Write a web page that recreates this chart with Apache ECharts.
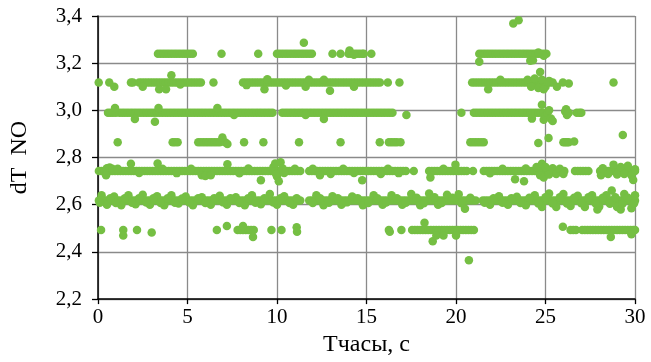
<!DOCTYPE html>
<html>
<head>
<meta charset="utf-8">
<script src="https://cdn.jsdelivr.net/npm/echarts@6/dist/echarts.min.js"></script>
<style>html,body{margin:0;padding:0;background:#fff}#c{width:651px;height:362px}</style>
</head>
<body>
<div id="c"></div>
<script>
// axis ticks
const xTicks = [0, 5, 10, 15, 20, 25, 30];
const yTicks = [2.2, 2.4, 2.6, 2.8, 3.0, 3.2, 3.4];
// quantized levels of dT NO
const levels = [3.24, 3.118, 2.99, 2.865, 2.743, 2.618, 2.493];

// x positions of points lying on each level
const run324 = [3.35,3.5,3.65,3.8,3.95,4.1,4.25,4.4,4.55,4.7,4.85,5.0,5.15,5.3,6.9,8.95,10.0,10.15,10.3,10.45,10.6,10.75,10.9,11.05,11.2,11.35,11.5,11.65,11.8,11.95,13.1,13.55,14.0,14.15,14.3,14.45,14.6,14.75,14.85,15.27,21.3,21.45,21.6,21.75,21.9,22.05,22.2,22.35,22.5,22.65,22.8,22.95,23.1,23.25,23.4,23.55,23.7,23.85,24.0,24.15,24.3,24.45,24.6,24.75,24.9,25.05];
const run312 = [0.04,0.63,1.84,1.95,2.3,2.45,2.6,2.75,2.9,3.05,3.2,3.35,3.5,3.65,3.8,3.95,4.1,4.25,4.4,4.55,4.7,4.85,5.0,5.15,5.3,5.45,5.6,5.75,6.45,8.1,8.25,8.4,8.55,8.7,8.85,9.0,9.15,9.3,9.45,9.6,9.75,9.9,10.05,10.2,10.35,10.5,10.65,10.8,10.95,11.1,11.25,11.4,11.55,11.7,11.85,12.0,12.15,12.3,12.45,12.6,12.75,12.9,13.05,13.2,13.35,13.5,13.65,13.8,13.95,14.1,14.25,14.4,14.55,14.7,14.85,15.0,15.15,15.3,15.45,15.6,15.75,16.19,16.84,20.9,21.05,21.2,21.35,21.5,21.65,21.8,21.95,22.1,22.25,22.4,22.55,22.7,22.85,23.0,23.15,23.3,23.45,23.6,23.75,23.9,24.05,24.2,24.35,24.5,24.65,24.8,24.95,25.1,25.25,25.4,25.97,28.8];
const run299 = [0.56,0.7,0.84,1.0,1.2,1.35,1.5,1.65,1.8,1.95,2.1,2.25,2.4,2.55,2.7,2.85,3.0,3.15,3.3,3.45,3.6,3.75,3.9,4.05,4.2,4.35,4.5,4.65,4.8,4.95,5.1,5.25,5.4,5.55,5.7,5.85,6.0,6.15,6.3,6.45,6.6,6.75,6.9,7.05,7.2,7.35,7.5,7.65,7.8,7.95,8.1,8.25,8.4,8.55,8.7,8.85,9.0,9.15,9.3,9.45,9.6,9.75,10.3,10.45,10.6,10.75,10.9,11.05,11.2,11.35,11.5,11.65,11.8,11.95,12.1,12.25,12.4,12.55,12.7,12.85,13.0,13.15,13.3,13.45,13.6,13.75,13.9,14.05,14.2,14.35,14.5,14.65,14.8,14.95,15.1,15.25,15.4,15.55,15.7,15.85,16.0,16.15,16.3,16.45,20.3,21.0,21.15,21.3,21.45,21.6,21.75,21.9,22.05,22.2,22.35,22.5,22.65,22.8,22.95,23.1,23.25,23.4,23.55,23.7,23.85,24.0,24.15,24.3,24.45,24.6,24.75,24.9,26.75,26.9,27.0];
const run287 = [1.1,4.17,4.3,4.45,5.6,5.75,5.9,6.05,6.2,6.35,6.5,6.65,6.8,7.1,8.16,9.24,11.23,13.55,15.74,16.25,16.4,16.55,16.7,16.9,20.8,20.95,21.1,21.25,21.4,21.55,26.0,26.1,26.2,26.3];
const run274 = [0.05,0.2,0.35,0.5,0.65,0.8,0.95,1.1,1.25,1.4,1.55,1.7,1.85,2.0,2.15,2.3,2.45,2.6,2.75,2.9,3.05,3.2,3.35,3.5,3.65,3.8,3.95,4.1,4.25,4.4,4.55,4.7,4.85,5.0,5.15,5.3,5.45,5.6,5.75,5.9,6.05,6.2,6.35,6.5,6.65,6.8,6.95,7.1,7.25,7.4,7.55,7.7,7.85,8.0,8.15,8.3,8.45,8.6,8.75,8.9,9.05,9.2,9.35,9.5,9.65,9.8,9.95,10.1,10.25,10.4,10.55,10.7,10.85,11.0,11.15,11.3,11.8,11.95,12.1,12.25,12.4,12.55,12.7,12.85,13.0,13.15,13.3,13.45,13.6,13.75,13.9,14.05,14.2,14.35,14.5,14.65,14.8,14.95,15.1,15.25,15.4,15.55,15.7,15.85,16.0,16.15,16.3,16.45,16.6,16.75,16.9,17.05,17.2,17.64,18.5,18.65,18.8,18.95,19.1,19.25,19.4,19.55,19.7,19.85,20.0,20.15,20.3,20.45,20.6,20.95,21.55,21.7,21.85,22.0,22.15,22.3,22.45,22.6,22.75,22.9,23.05,23.2,23.35,23.5,23.65,23.8,23.95,24.1,24.25,24.4,24.55,24.7,24.85,25.0,25.15,25.3,25.45,25.6,25.75,25.9,26.05,26.65,26.8,26.95,27.1,27.25,27.4,28.05,28.2,28.35,28.5,28.65,28.8,28.95,29.1,29.25,29.4,29.55,29.7,29.85,30.0];
const run262 = [0.05,0.2,0.35,0.5,0.65,0.8,0.95,1.1,1.25,1.4,1.55,1.7,1.85,2.0,2.15,2.3,2.45,2.6,2.75,2.9,3.05,3.2,3.35,3.5,3.65,3.8,3.95,4.1,4.25,4.4,4.55,4.7,4.85,5.0,5.15,5.3,5.45,5.6,5.75,5.9,6.05,6.2,6.35,6.5,6.65,6.8,6.95,7.1,7.25,7.4,7.55,7.7,7.85,8.0,8.15,8.3,8.45,8.6,8.75,8.9,9.05,9.2,9.35,9.5,9.65,9.8,9.95,10.1,10.25,10.4,10.55,10.7,10.85,11.0,11.15,11.3,11.8,11.95,12.1,12.25,12.4,12.55,12.7,12.85,13.0,13.15,13.3,13.45,13.6,13.75,13.9,14.05,14.2,14.35,14.5,14.65,14.8,14.95,15.1,15.25,15.4,15.55,15.7,15.85,16.0,16.15,16.3,16.45,16.6,16.75,16.9,17.05,17.2,17.35,17.5,17.65,17.8,17.95,18.1,18.25,18.4,18.55,18.7,18.85,19.0,19.15,19.3,19.45,19.6,19.75,19.9,20.05,20.2,20.35,20.5,20.65,20.8,20.95,21.1,21.5,21.65,21.8,21.95,22.1,22.25,22.4,22.55,22.7,22.85,23.0,23.15,23.3,23.45,23.6,23.75,23.9,24.05,24.2,24.35,24.5,24.65,24.8,24.95,25.1,25.25,25.4,25.55,25.7,25.85,26.0,26.15,26.3,26.45,26.6,26.75,26.9,27.05,27.2,27.35,27.5,27.65,27.8,27.95,28.1,28.25,28.4,28.55,28.7,28.85,29.0,29.15,29.3,29.45,29.6,29.75,29.9,30.0];
const run249 = [0.17,1.41,2.18,6.64,7.8,7.95,8.1,8.25,8.4,8.55,8.7,9.69,10.25,16.25,16.95,17.55,17.7,17.85,18.0,18.15,18.3,18.45,18.6,18.75,18.9,19.05,19.2,19.35,19.5,19.65,19.8,19.95,20.1,20.25,20.4,20.55,20.7,20.85,21.0,26.4,26.55,26.7,27.05,27.2,27.35,27.5,27.65,27.8,27.95,28.1,28.25,28.4,28.55,28.7,28.85,29.0,29.15,29.3,29.45,29.6,29.75,29.9,30.0];

// points scattered off the levels [x, y]
const off324 = [[11.5,3.287],[14.05,3.254],[14.3,3.236],[21.3,3.206],[24.15,3.21],[24.3,3.212],[24.9,3.232],[24.6,3.245],[23.2,3.368],[23.5,3.382]];
const off312 = [[0.91,3.10],[3.42,3.09],[3.8,3.09],[2.5,3.10],[4.1,3.149],[4.6,3.11],[9.46,3.132],[9.3,3.09],[8.3,3.107],[11.78,3.13],[12.62,3.13],[12.96,3.083],[11.6,3.10],[14.3,3.10],[10.5,3.105],[21.8,3.09],[22.48,3.13],[24.0,3.13],[24.7,3.163],[24.2,3.10],[24.4,3.135],[24.6,3.095],[24.8,3.13],[25.0,3.10],[25.2,3.125],[24.9,3.09],[25.64,3.10],[26.3,3.114]];
const off299 = [[0.95,3.01],[2.06,2.963],[3.18,2.952],[3.38,3.01],[6.67,3.01],[7.6,2.98],[11.6,2.98],[12.62,2.963],[17.23,2.98],[24.24,2.965],[24.8,3.024],[24.9,2.96],[25.0,2.975],[25.1,2.99],[25.2,3.0],[25.3,2.965],[25.4,2.955],[26.1,2.995],[26.15,3.005],[26.2,2.98],[26.3,2.99]];
const off287 = [[6.95,2.885],[7.23,2.857],[24.6,2.862],[25.17,2.883],[26.6,2.868],[29.32,2.896]];
const off274 = [[0.5,2.755],[0.65,2.758],[0.8,2.752],[0.45,2.725],[1.84,2.774],[3.33,2.775],[5.8,2.725],[6.0,2.722],[6.3,2.725],[7.23,2.772],[9.1,2.704],[9.8,2.76],[9.9,2.775],[10.0,2.72],[10.1,2.70],[10.2,2.78],[9.95,2.73],[10.3,2.755],[10.4,2.735],[12.4,2.725],[13.0,2.73],[14.76,2.704],[15.8,2.73],[18.57,2.715],[19.97,2.77],[23.3,2.708],[23.8,2.70],[24.5,2.76],[24.7,2.725],[24.8,2.774],[24.9,2.715],[25.0,2.76],[25.2,2.728],[25.4,2.755],[25.6,2.73],[25.8,2.752],[28.1,2.725],[28.2,2.755],[28.5,2.73],[28.8,2.77],[29.0,2.728],[29.2,2.76],[29.4,2.73],[29.6,2.765],[29.8,2.725],[29.9,2.705],[30.0,2.75],
  [1.1,2.752],[2.3,2.735],[3.6,2.752],[4.4,2.734],[5.2,2.753],[7.9,2.733],[8.4,2.754],[11.0,2.752],[12.0,2.753],[13.7,2.752],[14.3,2.735],[16.2,2.752],[16.8,2.734],[19.3,2.752],[21.9,2.733],[22.6,2.752],[23.9,2.754],[26.0,2.73]];
const off262 = [[0.2,2.64],[0.5,2.6],[0.9,2.635],[1.3,2.598],[1.7,2.64],[2.1,2.602],[2.5,2.642],[2.9,2.6],[3.3,2.636],[3.7,2.598],[4.1,2.64],[4.5,2.605],[4.9,2.635],[5.3,2.598],[5.8,2.632],[6.3,2.6],[6.8,2.638],[7.2,2.6],[7.7,2.632],[8.2,2.598],[8.6,2.64],[9.1,2.602],[9.6,2.645],[10.0,2.6],[10.4,2.636],[10.9,2.6],[12.2,2.64],[12.6,2.598],[13.1,2.636],[13.6,2.6],[14.2,2.635],[14.8,2.598],[15.4,2.64],[15.9,2.6],[16.4,2.64],[17.0,2.6],[17.5,2.645],[18.0,2.598],[18.5,2.648],[19.0,2.6],[19.5,2.642],[20.15,2.644],[20.5,2.583],[21.9,2.6],[22.4,2.636],[22.9,2.6],[23.4,2.634],[23.9,2.598],[24.4,2.64],[24.8,2.59],[25.2,2.648],[25.6,2.59],[26.0,2.645],[26.4,2.595],[26.8,2.638],[27.2,2.59],[27.6,2.64],[28.0,2.592],[28.4,2.64],[28.7,2.66],[29.0,2.59],[29.4,2.645],[29.8,2.585],[30.0,2.64],[27.9,2.58],[29.2,2.58],
  [0.1,2.608],[0.7,2.628],[1.0,2.607],[1.5,2.627],[1.9,2.608],[2.3,2.628],[2.7,2.609],[3.1,2.627],[3.5,2.607],[3.9,2.628],[4.3,2.608],[4.7,2.626],[5.1,2.609],[5.6,2.627],[6.0,2.607],[6.5,2.628],[7.0,2.61],[7.4,2.627],[7.9,2.607],[8.4,2.628],[8.8,2.608],[9.3,2.627],[9.8,2.609],[10.2,2.628],[10.7,2.607],[11.1,2.627],[12.0,2.607],[12.4,2.628],[12.9,2.608],[13.4,2.627],[13.9,2.61],[14.5,2.628],[15.1,2.607],[15.6,2.628],[16.1,2.609],[16.7,2.627],[17.2,2.608],[17.8,2.63],[18.2,2.606],[18.8,2.632],[19.2,2.607],[19.8,2.63],[20.3,2.606],[20.8,2.63],[21.6,2.608],[22.1,2.627],[22.6,2.608],[23.1,2.628],[23.6,2.607],[24.1,2.63],[24.6,2.605],[25.0,2.632],[25.4,2.605],[25.8,2.632],[26.2,2.605],[26.6,2.63],[27.0,2.606],[27.4,2.632],[27.8,2.605],[28.2,2.63],[28.6,2.604],[28.9,2.632],[29.3,2.604],[29.6,2.63],[29.95,2.606]];
const off249 = [[1.41,2.47],[3.0,2.482],[7.2,2.51],[8.1,2.51],[8.66,2.463],[11.1,2.505],[11.12,2.485],[16.3,2.485],[18.24,2.524],[18.7,2.445],[18.9,2.47],[19.3,2.47],[20.0,2.47],[20.72,2.365],[25.97,2.507],[28.65,2.463],[29.8,2.475]];

const runs = [run324, run312, run299, run287, run274, run262, run249];
const offs = [off324, off312, off299, off287, off274, off262, off249];

const points = [];
runs.forEach((r, i) => { r.forEach(x => points.push([x, levels[i]])); });
offs.forEach(o => { o.forEach(p => points.push(p)); });

const serif = '"Liberation Serif", "Times New Roman", serif';
const chart = echarts.init(document.getElementById('c'));
chart.setOption({
  animation: false,
  backgroundColor: '#fff',
  grid: { left: 97, right: 16, top: 16, bottom: 58.5, show: false },
  xAxis: {
    type: 'value', min: xTicks[0], max: xTicks[xTicks.length - 1], interval: 5,
    name: 'Тчасы, с', nameLocation: 'middle', nameGap: 29,
    nameTextStyle: { fontFamily: serif, fontSize: 24, color: '#000' },
    axisLine: { show: true, onZero: false, lineStyle: { color: '#000', width: 1.5 } },
    axisTick: { show: true, length: 5, lineStyle: { color: '#000', width: 1.3 } },
    axisLabel: { fontFamily: serif, fontSize: 21, color: '#000', margin: 8 },
    splitLine: { show: true, lineStyle: { color: '#8a8a8a', width: 1.3 } }
  },
  yAxis: {
    type: 'value', min: yTicks[0], max: yTicks[yTicks.length - 1], interval: 0.2,
    name: 'dT  NO', nameLocation: 'middle', nameGap: 66, nameRotate: 90,
    nameTextStyle: { fontFamily: serif, fontSize: 24, color: '#000' },
    axisLine: { show: true, onZero: false, lineStyle: { color: '#000', width: 1.5 } },
    axisTick: { show: true, length: 6, lineStyle: { color: '#000', width: 1.3 } },
    axisLabel: { fontFamily: serif, fontSize: 21, color: '#000', margin: 16,
      formatter: v => v.toFixed(1).replace('.', ',') },
    splitLine: { show: true, lineStyle: { color: '#8a8a8a', width: 1.3 } }
  },
  series: [{
    type: 'scatter', data: points, symbolSize: 8.5,
    itemStyle: { color: '#75bf43', opacity: 1 },
    silent: true
  }]
});
</script>
</body>
</html>
